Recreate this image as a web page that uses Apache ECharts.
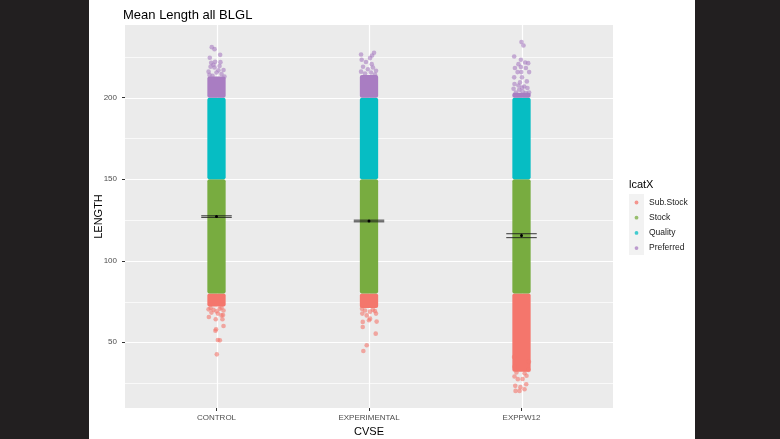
<!DOCTYPE html>
<html><head><meta charset="utf-8">
<script src="https://cdn.jsdelivr.net/npm/echarts@6/dist/echarts.min.js"></script>
<style>html,body{margin:0;padding:0;background:#fff}#c{width:780px;height:439px}</style>
</head><body><div id="c"></div>
<script>
const categories = ['CONTROL', 'EXPERIMENTAL', 'EXPPW12'];
const groups = ['Sub.Stock', 'Stock', 'Quality', 'Preferred'];
const groupColors = ['#F4766C', '#78AC40', '#06BDC3', '#A97DC2'];
const yTicks = [50, 100, 150, 200];
const yMinor = [25, 75, 125, 175, 225];

// dense (overplotted) ranges: [category position, low, high]
const subStockBands = [[1, 72, 80], [2, 71, 80], [3, 32, 80]];
const stockBands = [[1, 80, 150], [2, 80, 150], [3, 80, 150]];
const qualityBands = [[1, 150, 200], [2, 150, 200], [3, 150, 200]];
const preferredBands = [[1, 200, 213], [2, 200, 214], [3, 200, 203]];

// sparse jittered points: [x (category + jitter), LENGTH]
const subStockPoints = [
  [0.950, 65.5], [0.967, 68.2], [0.995, 64.1], [1.009, 67.6], [1.033, 66.5], [1.043, 66.7],
  [1.039, 64.1], [0.993, 57.1], [0.997, 58.0], [1.046, 60.0], [1.009, 51.4], [1.022, 51.2],
  [1.002, 42.6], [0.980, 70.0], [1.020, 70.5], [0.961, 71.0], [1.046, 69.5], [1.000, 69.0],
  [0.948, 70.2], [1.033, 71.2],
  [1.956, 67.6], [1.985, 66.5], [2.007, 64.5], [2.000, 63.5], [2.046, 67.6], [2.050, 62.7],
  [1.959, 62.5], [1.959, 59.4], [2.044, 55.3], [1.985, 48.2], [1.963, 44.7], [1.974, 69.5],
  [2.026, 70.0], [2.007, 68.8], [1.954, 70.5], [2.039, 69.2],
  [2.961, 20.2], [2.987, 20.2], [3.020, 21.2], [2.959, 23.3], [2.993, 22.5], [3.031, 24.3],
  [2.976, 27.4], [3.007, 27.5], [2.954, 29.0], [3.033, 29.5], [2.967, 31.5], [3.020, 31.0],
  [3.046, 33.0], [2.954, 35.0], [3.049, 38.0], [2.951, 41.0]
];
const preferredPoints = [
  [0.969, 231.0], [0.987, 229.8], [0.956, 224.5], [1.024, 226.3], [0.965, 221.4], [0.991, 222.0],
  [1.026, 221.8], [0.961, 219.0], [0.987, 218.5], [1.020, 219.5], [1.046, 217.0], [0.948, 216.0],
  [1.000, 215.5], [1.033, 214.5], [0.974, 213.5], [1.052, 213.0], [0.954, 214.0], [1.013, 216.8],
  [0.980, 220.2],
  [1.948, 226.5], [1.952, 223.3], [2.033, 227.6], [2.020, 225.9], [2.007, 224.3], [1.980, 221.9],
  [2.018, 220.6], [1.961, 219.0], [2.026, 218.5], [1.993, 217.5], [2.046, 216.5], [1.948, 216.0],
  [2.013, 215.5], [1.974, 214.8], [2.039, 214.2],
  [3.000, 234.1], [3.013, 232.0], [2.952, 225.3], [2.996, 223.3], [3.044, 221.2], [3.024, 221.6],
  [2.980, 220.6], [2.957, 218.2], [2.996, 218.8], [3.029, 218.2], [3.050, 215.7], [2.974, 215.7],
  [2.998, 215.7], [2.952, 212.5], [3.003, 212.5], [3.035, 210.0], [2.954, 208.4], [2.990, 209.4],
  [3.003, 206.3], [3.018, 206.9], [2.985, 204.9], [2.963, 203.2], [3.029, 202.9], [3.050, 203.2],
  [2.980, 207.5], [3.039, 206.0], [2.948, 205.5], [3.007, 204.0]
];

// group means with error bars
const meanValues = [127.1, 124.4, 115.5];
const meanLower = [126.6, 123.9, 114.2];
const meanUpper = [127.6, 124.9, 116.6];

const FONT = '"Liberation Sans", Arial, sans-serif';
const HALF = 0.06;
const X_MIN = 0.4, X_MAX = 3.6;
const Y_MIN = 9.7, Y_MAX = 244.6;

const chart = echarts.init(document.getElementById('c'), null, {renderer: 'canvas'});

function bandRender(color) {
  return function (params, api) {
    const x = api.value(0), lo = api.value(1), hi = api.value(2);
    const p1 = api.coord([x - HALF, hi]);
    const p2 = api.coord([x + HALF, lo]);
    return {type: 'rect', shape: {x: p1[0], y: p1[1], width: p2[0] - p1[0], height: p2[1] - p1[1], r: 2},
      style: {fill: color}};
  };
}

const gridData = yMinor.map(v => [1, v, 0]).concat(yTicks.map(v => [1, v, 1]));
const vGridData = categories.map((c, i) => [i + 1, 100]);

const bandSets = [subStockBands, stockBands, qualityBands, preferredBands];
const series = [];
series.push({
  type: 'custom', silent: true, z: 1, data: gridData, encode: {x: 0, y: 1},
  renderItem: function (params, api) {
    const v = api.value(1), major = api.value(2);
    const a = api.coord([X_MIN, v]), b = api.coord([X_MAX, v]);
    return {type: 'line', shape: {x1: a[0], y1: Math.round(a[1]) + 0.5, x2: b[0], y2: Math.round(b[1]) + 0.5},
      style: {stroke: '#FFFFFF', lineWidth: major ? 1.2 : 0.7}};
  }
});
series.push({
  type: 'custom', silent: true, z: 1, data: vGridData, encode: {x: 0, y: 1},
  renderItem: function (params, api) {
    const x = api.value(0);
    const a = api.coord([x, Y_MAX]), b = api.coord([x, Y_MIN]);
    return {type: 'line', shape: {x1: Math.round(a[0]) + 0.5, y1: a[1], x2: Math.round(b[0]) + 0.5, y2: b[1]},
      style: {stroke: '#FFFFFF', lineWidth: 1.2}};
  }
});
groups.forEach((g, i) => {
  series.push({
    name: g, type: 'custom', z: 2, data: bandSets[i], encode: {x: 0, y: [1, 2]},
    renderItem: bandRender(groupColors[i])
  });
});
series.push({name: 'Sub.Stock', type: 'scatter', z: 3, data: subStockPoints, symbolSize: 4.6,
  itemStyle: {color: groupColors[0], opacity: 0.6}});
series.push({name: 'Preferred', type: 'scatter', z: 3, data: preferredPoints, symbolSize: 4.6,
  itemStyle: {color: groupColors[3], opacity: 0.6}});
series.push({
  name: 'mean', type: 'custom', z: 5,
  data: meanValues.map((m, i) => [i + 1, m, meanLower[i], meanUpper[i]]),
  encode: {x: 0, y: [1, 2, 3]},
  renderItem: function (params, api) {
    const x = api.value(0);
    const m = api.coord([x, api.value(1)]);
    const lo1 = api.coord([x - 0.1, api.value(2)]), lo2 = api.coord([x + 0.1, api.value(2)]);
    const up1 = api.coord([x - 0.1, api.value(3)]), up2 = api.coord([x + 0.1, api.value(3)]);
    const st = {stroke: '#1a1a1a', lineWidth: 1.1, opacity: 0.8};
    return {type: 'group', children: [
      {type: 'line', shape: {x1: lo1[0], y1: lo1[1], x2: lo2[0], y2: lo2[1]}, style: st},
      {type: 'line', shape: {x1: up1[0], y1: up1[1], x2: up2[0], y2: up2[1]}, style: st},
      {type: 'line', shape: {x1: m[0], y1: up1[1], x2: m[0], y2: lo1[1]}, style: st},
      {type: 'circle', shape: {cx: m[0], cy: m[1], r: 1.5}, style: {fill: '#000'}}
    ]};
  }
});

// legend built from the groups list
const legendEls = [{type: 'text', left: 629, top: 179, style: {text: 'lcatX', font: '11px ' + FONT, fill: '#000'}},
  {type: 'rect', shape: {x: 629, y: 194, width: 15, height: 61}, style: {fill: '#F2F2F2'}}];
groups.forEach((g, i) => {
  legendEls.push({type: 'circle', shape: {cx: 636.5, cy: 202.5 + i * 15.2, r: 1.9}, style: {fill: groupColors[i], opacity: 0.75}});
  legendEls.push({type: 'text', x: 649, y: 202.5 + i * 15.2,
    style: {text: g, font: '8.5px ' + FONT, fill: '#1a1a1a', verticalAlign: 'middle'}});
});

chart.setOption({
  backgroundColor: '#FFFFFF',
  animation: false,
  title: {text: 'Mean Length all BLGL', left: 123, top: 9, padding: 0,
    textStyle: {fontFamily: FONT, fontSize: 13, fontWeight: 'normal', color: '#000'}},
  grid: {left: 125, top: 25, width: 488, height: 383, show: true, backgroundColor: '#EBEBEB', borderWidth: 0,
    containLabel: false, outerBoundsMode: 'none'},
  xAxis: {
    type: 'value', min: X_MIN, max: X_MAX,
    name: 'CVSE', nameLocation: 'middle', nameGap: 18, nameMoveOverlap: false,
    nameTextStyle: {fontFamily: FONT, fontSize: 11, color: '#000'},
    axisLine: {show: false},
    axisTick: {show: true, length: 3, customValues: [1, 2, 3], lineStyle: {color: '#333'}},
    axisLabel: {customValues: [1, 2, 3], margin: 6, fontFamily: FONT, fontSize: 8, color: '#4D4D4D',
      formatter: v => categories[Math.round(v) - 1]},
    splitLine: {show: false}
  },
  yAxis: {
    type: 'value', min: Y_MIN, max: Y_MAX,
    name: 'LENGTH', nameLocation: 'middle', nameGap: 21, nameRotate: 90, nameMoveOverlap: false,
    nameTextStyle: {fontFamily: FONT, fontSize: 11, color: '#000'},
    axisLine: {show: false},
    axisTick: {show: true, length: 3, customValues: yTicks, lineStyle: {color: '#333'}},
    axisLabel: {customValues: yTicks, margin: 8, fontFamily: FONT, fontSize: 8, color: '#4D4D4D'},
    splitLine: {show: false}
  },
  graphic: [
    {type: 'rect', shape: {x: 0, y: 0, width: 89, height: 439}, style: {fill: '#221F20'}},
    {type: 'rect', shape: {x: 695, y: 0, width: 85, height: 439}, style: {fill: '#221F20'}}
  ].concat(legendEls),
  series: series
});
</script></body></html>
